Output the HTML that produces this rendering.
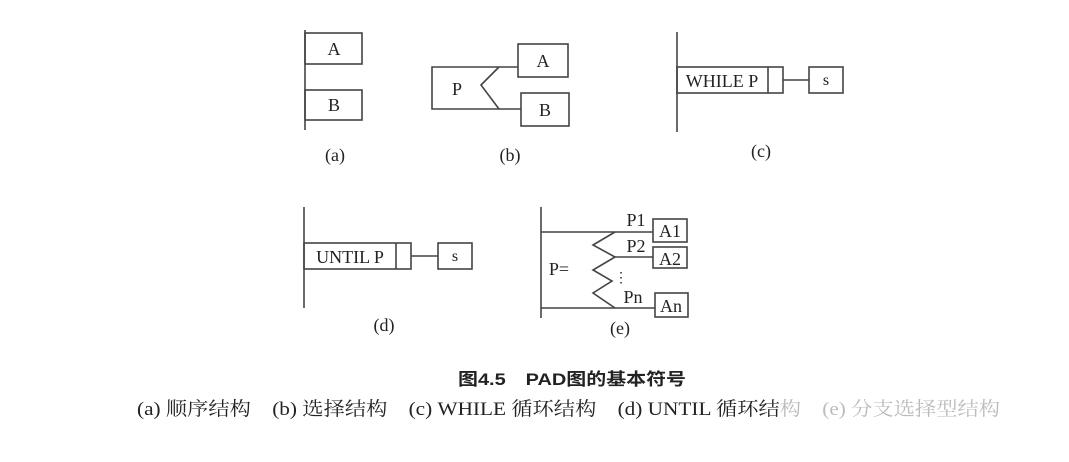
<!DOCTYPE html>
<html><head><meta charset="utf-8"><style>
body{margin:0;background:#fff;width:1069px;height:457px;overflow:hidden}
svg text{font-family:"Liberation Serif","Noto Serif CJK SC",serif;fill:#222}
</style></head><body>
<svg width="1069" height="457" viewBox="0 0 1069 457" xmlns="http://www.w3.org/2000/svg">
<g stroke="#444" stroke-width="1.6" fill="none">
<line x1="305" y1="30" x2="305" y2="130"/>
<rect x="305" y="33" width="57" height="31"/>
<rect x="305" y="90" width="57" height="30"/>
<polyline points="499,67 432,67 432,109 499,109"/>
<polyline points="499,67 481,85 499,109"/>
<line x1="499" y1="67" x2="518" y2="67"/>
<line x1="499" y1="109" x2="521" y2="109"/>
<rect x="518" y="44" width="50" height="33"/>
<rect x="521" y="93" width="48" height="33"/>
<line x1="677" y1="32" x2="677" y2="132"/>
<rect x="677" y="67" width="106" height="26"/>
<line x1="768" y1="67" x2="768" y2="93"/>
<line x1="783" y1="80" x2="809" y2="80"/>
<rect x="809" y="67" width="34" height="26"/>
<line x1="304" y1="207" x2="304" y2="308"/>
<rect x="304" y="243" width="107" height="26"/>
<line x1="396" y1="243" x2="396" y2="269"/>
<line x1="411" y1="256" x2="438" y2="256"/>
<rect x="438" y="243" width="34" height="26"/>
<line x1="541" y1="207" x2="541" y2="318"/>
<line x1="541" y1="232" x2="653" y2="232"/>
<line x1="541" y1="308" x2="655" y2="308"/>
<line x1="615" y1="257" x2="653" y2="257"/>
<polyline points="615,232 593,245 615,257 593,270 612,281 593,293 615,308"/>
<rect x="653" y="219" width="34" height="23"/>
<rect x="653" y="247" width="34" height="21"/>
<rect x="655" y="293" width="33" height="24"/>
</g>
<g font-size="18" text-anchor="middle">
<text x="334" y="55">A</text>
<text x="334" y="111">B</text>
<text x="543" y="67">A</text>
<text x="545" y="116">B</text>
<text x="457" y="95">P</text>
<text x="722" y="87">WHILE P</text>
<text x="826" y="85" font-size="16">s</text>
<text x="350" y="263">UNTIL P</text>
<text x="455" y="261" font-size="16">s</text>
<text x="670" y="237">A1</text>
<text x="670" y="265">A2</text>
<text x="671" y="312">An</text>
<text x="636" y="226">P1</text>
<text x="636" y="252">P2</text>
<text x="633" y="303">Pn</text>
<text x="559" y="275">P=</text>
<text x="621" y="282" font-size="14">⋮</text>
<text x="335" y="161">(a)</text>
<text x="510" y="161">(b)</text>
<text x="761" y="157">(c)</text>
<text x="384" y="331">(d)</text>
<text x="620" y="334">(e)</text>
</g>
<text x="458" y="385" font-size="17" font-weight="bold" textLength="228" lengthAdjust="spacingAndGlyphs" style="font-family:'Liberation Sans','Noto Sans CJK SC',sans-serif">图4.5　PAD图的基本符号</text>
<text x="137" y="415" font-size="19" textLength="863" lengthAdjust="spacingAndGlyphs">(a) 顺序结构　(b) 选择结构　(c) WHILE 循环结构　(d) UNTIL 循环结<tspan fill="#bbb">构　(e) 分支选择型结构</tspan></text>
</svg>
</body></html>
